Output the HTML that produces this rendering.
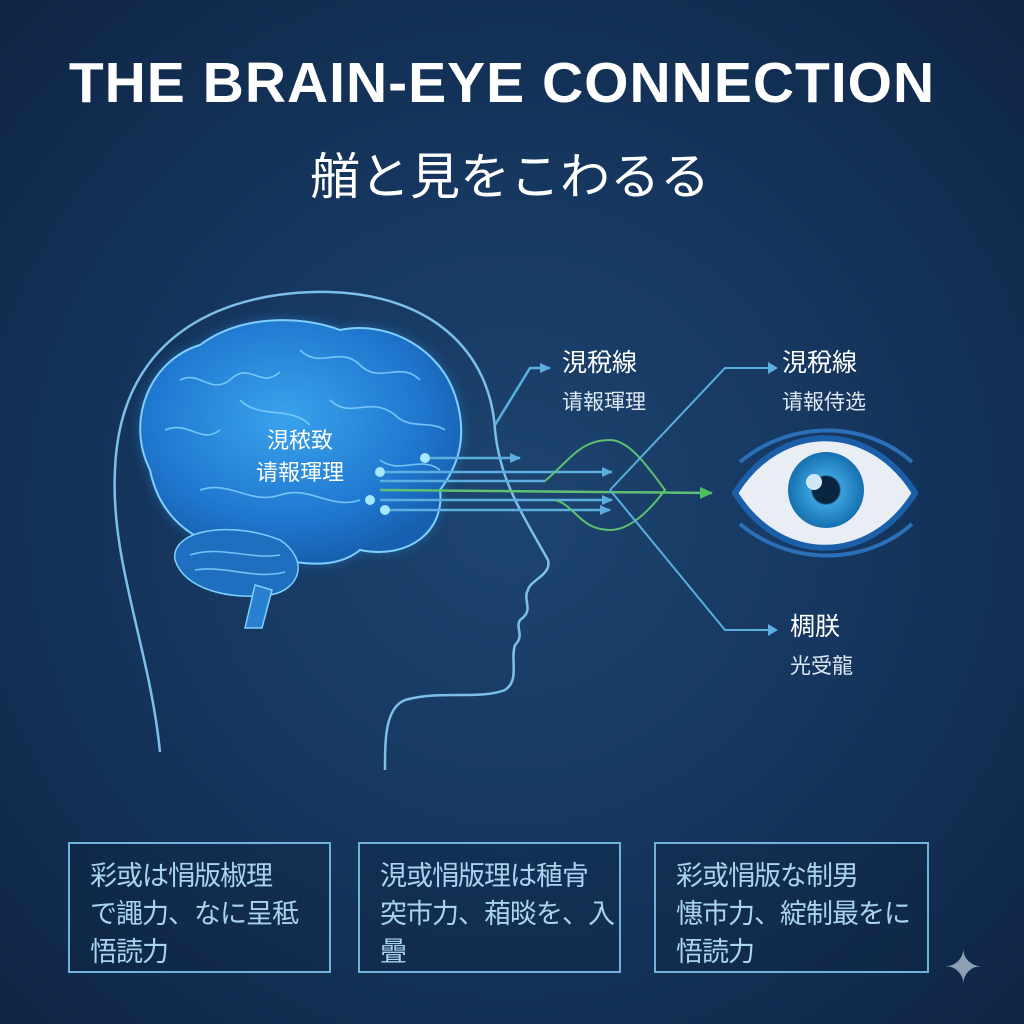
<!DOCTYPE html>
<html><head><meta charset="utf-8"><style>
html,body{margin:0;padding:0}
body{width:1024px;height:1024px;overflow:hidden;position:relative;
background:radial-gradient(ellipse at 50% 50%,#1d4570 0%,#163760 45%,#0e2544 100%);
font-family:"Liberation Sans","Noto Sans CJK JP",sans-serif;color:#fff}
.t{position:absolute;left:0;width:1024px;text-align:center}
.box{position:absolute;border:2px solid #6fb2dc;top:842px;height:131px;box-sizing:border-box;
padding:13px 0 0 20px;color:#a9d3f0;font-size:27px;line-height:38px;background:rgba(10,30,55,0.25);white-space:nowrap;letter-spacing:-1px}
.lb{position:absolute;color:#fff;font-size:25px;line-height:40px}
.lb span{display:block;font-size:21px;color:#dde8f2}
</style></head><body>
<div class="t" style="top:50px;font-size:57px;font-weight:bold;letter-spacing:1px;left:-10px">THE BRAIN-EYE CONNECTION</div>
<div class="t" style="top:137px;font-size:50px;left:-2px">艏と見をこわるる</div>
<svg width="1024" height="1024" style="position:absolute;left:0;top:0">
<defs>
<radialGradient id="br" cx="45%" cy="40%" r="60%"><stop offset="0" stop-color="#3aa2ec"/><stop offset="0.7" stop-color="#1f78d0"/><stop offset="1" stop-color="#1760b0"/></radialGradient>
<radialGradient id="ir" cx="50%" cy="50%" r="50%"><stop offset="0" stop-color="#0a2540"/><stop offset="0.35" stop-color="#0a2540"/><stop offset="0.4" stop-color="#3aa0dc"/><stop offset="1" stop-color="#1670b0"/></radialGradient>
<filter id="gl"><feGaussianBlur stdDeviation="6"/></filter>
<marker id="a" markerUnits="userSpaceOnUse" markerWidth="12" markerHeight="12" refX="10" refY="6" orient="auto"><path d="M0,1L11,6L0,11z" fill="#5aaee0"/></marker>
<marker id="g" markerUnits="userSpaceOnUse" markerWidth="14" markerHeight="14" refX="12" refY="7" orient="auto"><path d="M0,1L13,7L0,13z" fill="#4cc060"/></marker>
</defs>
<path d="M160,752 C150,650 110,560 115,470 C120,330 230,290 330,292 C430,295 490,350 495,430 C500,480 520,510 548,560 C552,575 530,580 528,590 C522,600 535,610 520,620 C515,628 525,635 515,645 C510,660 520,680 505,690 C480,700 440,690 405,700 C385,708 385,740 385,770" fill="none" stroke="#7cc0ea" stroke-width="2.5"/>
<g>
<path d="M150,470 C125,420 150,360 200,345 C240,315 300,315 340,330 C390,320 440,350 455,395 C470,440 455,470 440,490 C445,530 410,560 360,550 C330,575 280,560 250,550 C200,550 160,520 150,470z" fill="#2a8fe6" opacity="0.5" filter="url(#gl)"/>
<path d="M150,470 C125,420 150,360 200,345 C240,315 300,315 340,330 C390,320 440,350 455,395 C470,440 455,470 440,490 C445,530 410,560 360,550 C330,575 280,560 250,550 C200,550 160,520 150,470z" fill="url(#br)" stroke="#7fd0ff" stroke-width="2"/>
<path d="M175,560 C170,530 230,520 280,540 C310,560 300,590 270,595 C230,600 185,590 175,560z" fill="#1e6fc0" stroke="#7fd0ff" stroke-width="1.5"/>
<path d="M255,585 L245,628 L262,628 L272,590z" fill="#2a80d0" stroke="#7fd0ff" stroke-width="1.5"/>
<g fill="none" stroke="#8ad6ff" stroke-width="1.6" opacity="0.8">
<path d="M180,380 C200,370 210,395 230,380 C250,360 260,390 280,372"/>
<path d="M300,350 C320,370 340,345 360,365 C380,385 400,360 420,380"/>
<path d="M165,430 C190,420 200,445 220,430"/>
<path d="M330,400 C350,420 370,395 395,415 C410,430 430,420 445,430"/>
<path d="M200,490 C230,480 250,505 280,495 C310,485 330,510 360,500"/>
<path d="M380,460 C400,475 420,455 440,470"/>
<path d="M240,400 C260,420 290,405 310,425"/>
<path d="M190,555 C220,545 250,560 280,555"/><path d="M195,570 C225,565 255,580 285,572"/>
</g>
</g>
<g fill="none" stroke="#5aaee0" stroke-width="2.5">
<path d="M425,458 L520,458" marker-end="url(#a)"/>
<path d="M380,472 L612,472" marker-end="url(#a)"/>
<path d="M380,500 L612,500" marker-end="url(#a)"/>
<path d="M385,510 L610,510" marker-end="url(#a)"/>
<path d="M380,481 L545,481"/>
<path d="M495,425 L530,368 L550,368" marker-end="url(#a)"/>
</g>
<g fill="none" stroke="#5ec070" stroke-width="2">
<path d="M380,490 L712,493" marker-end="url(#g)" stroke-width="2.5"/>
<path d="M545,481 C570,460 580,440 610,440 C630,440 650,470 665,490 C650,510 630,530 610,530 C580,530 575,505 555,500"/>
<path d="M610,490 L725,368 L770,368" stroke="#5aaee0"/>
<path d="M610,490 L725,630 L770,630" stroke="#5aaee0"/>
</g>
<path d="M768,362 L778,368 L768,374z" fill="#5aaee0"/><path d="M768,624 L778,630 L768,636z" fill="#5aaee0"/>
<g fill="#a6e8ff"><circle cx="425" cy="458" r="5"/><circle cx="380" cy="472" r="5"/><circle cx="370" cy="500" r="5"/><circle cx="385" cy="510" r="5"/></g>
<g>
<path d="M735,493 C780,420 870,420 915,493 C870,566 780,566 735,493z" fill="#e8eef4" stroke="#1a5fa8" stroke-width="6"/>
<path d="M740,462 C790,420 865,420 912,462" fill="none" stroke="#2a70b8" stroke-width="4"/>
<path d="M740,524 C790,566 865,566 912,524" fill="none" stroke="#2a70b8" stroke-width="4"/>
<circle cx="826" cy="490" r="38" fill="url(#ir)"/>
<circle cx="814" cy="482" r="8" fill="#cfe8f8"/>
</g>
</svg>
<div class="lb" style="left:256px;top:425px;font-size:22px;line-height:32px;text-align:center">涀秾致<br>请報琿理</div>
<div class="lb" style="left:562px;top:343px">涀稅線<span>请報琿理</span></div>
<div class="lb" style="left:782px;top:343px">涀稅線<span>请報侍选</span></div>
<div class="lb" style="left:790px;top:607px">椆朕<span>光受龍</span></div>
<div class="box" style="left:68px;width:263px">彩或は悁版椒理<br>で譝力、なに呈秪<br>悟読力</div>
<div class="box" style="left:358px;width:263px">涀或悁版理は稙肻<br>突市力、葙晱を、入<br>曡</div>
<div class="box" style="left:654px;width:275px">彩或悁版な制男<br>憓市力、綻制最をに<br>悟読力</div>
<div style="position:absolute;left:944px;top:944px;font-size:46px;color:#8fa0b4;line-height:46px">✦</div>
</body></html>
